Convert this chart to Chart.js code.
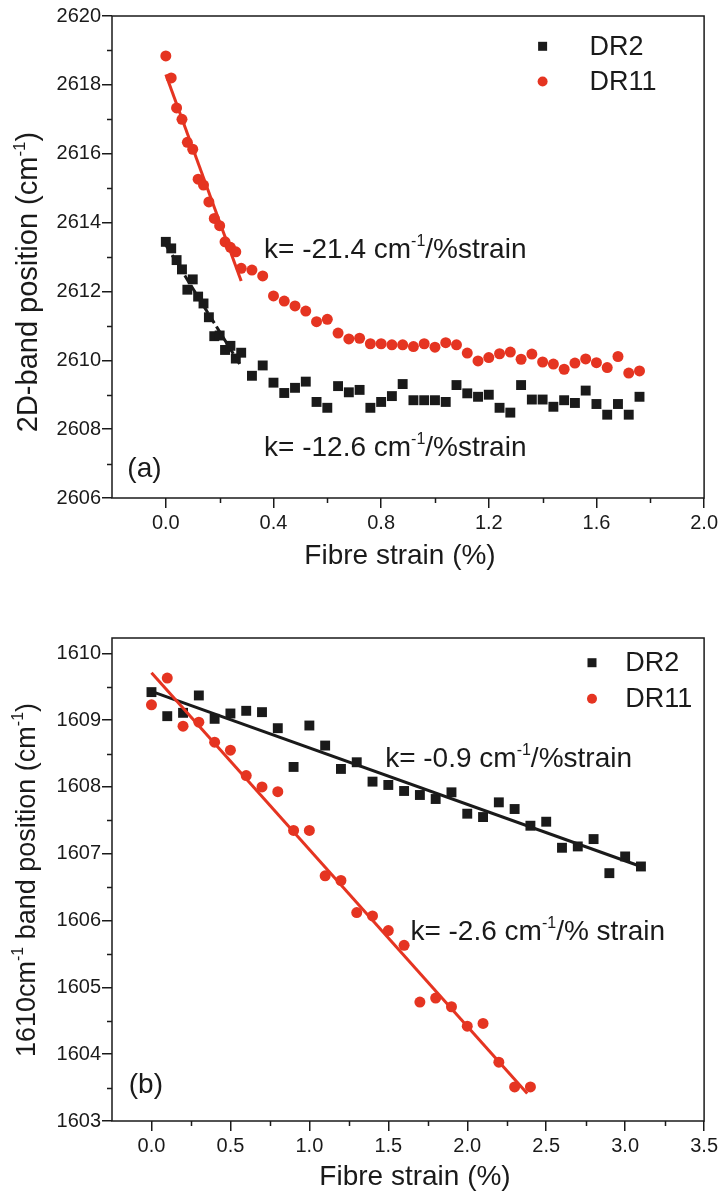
<!DOCTYPE html>
<html>
<head>
<meta charset="utf-8">
<script src="https://cdn.jsdelivr.net/npm/chart.js@4.4.1/dist/chart.umd.min.js"></script>
<style>
  html, body { margin: 0; padding: 0; background: #fff; }
  .panel { position: absolute; left: 0; width: 721px; height: 597px; }
  #panelA { top: 0; }
  #panelB { top: 597px; }
</style>
</head>
<body>
<div class="panel" id="panelA"><canvas id="chartA"></canvas></div>
<div class="panel" id="panelB"><canvas id="chartB"></canvas></div>
<script>
const FONT = "'Liberation Sans', Arial, sans-serif";
const INK = '#1a1a1a';
const RED = '#e53421';

// (a) 2D band vs fibre strain
const strainA = [0, 0.02, 0.04, 0.06, 0.08, 0.10, 0.12, 0.14, 0.16, 0.18, 0.20, 0.22, 0.24, 0.26, 0.28,
  0.32, 0.36, 0.40, 0.44, 0.48, 0.52, 0.56, 0.60, 0.64, 0.68, 0.72, 0.76, 0.80, 0.84, 0.88, 0.92, 0.96,
  1.00, 1.04, 1.08, 1.12, 1.16, 1.20, 1.24, 1.28, 1.32, 1.36, 1.40, 1.44, 1.48, 1.52, 1.56, 1.60, 1.64,
  1.68, 1.72, 1.76];
const dr2A = [2613.44, 2613.25, 2612.91, 2612.64, 2612.05, 2612.35, 2611.85, 2611.65, 2611.25, 2610.70,
  2610.72, 2610.30, 2610.42, 2610.05, 2610.22, 2609.55, 2609.85, 2609.35, 2609.05, 2609.20, 2609.38,
  2608.79, 2608.62, 2609.25, 2609.07, 2609.14, 2608.62, 2608.79, 2608.96, 2609.31, 2608.84, 2608.84,
  2608.84, 2608.79, 2609.28, 2609.04, 2608.94, 2609.00, 2608.62, 2608.48, 2609.28, 2608.86, 2608.86,
  2608.65, 2608.84, 2608.76, 2609.12, 2608.73, 2608.42, 2608.73, 2608.42, 2608.94];
const dr11A = [2618.84, 2618.20, 2617.33, 2617.00, 2616.33, 2616.13, 2615.26, 2615.09, 2614.60, 2614.12,
  2613.91, 2613.44, 2613.28, 2613.15, 2612.67, 2612.62, 2612.45, 2611.87, 2611.72, 2611.58, 2611.43,
  2611.12, 2611.19, 2610.79, 2610.62, 2610.64, 2610.48, 2610.48, 2610.45, 2610.45, 2610.40, 2610.48,
  2610.38, 2610.51, 2610.45, 2610.21, 2609.98, 2610.08, 2610.19, 2610.24, 2610.03, 2610.18, 2609.95,
  2609.89, 2609.74, 2609.92, 2610.04, 2609.93, 2609.79, 2610.11, 2609.63, 2609.69];
const fitA2x = [0, 0.28];
const fitA2y = [2613.35, 2609.82];
const fitA11x = [0, 0.28];
const fitA11y = [2618.3, 2612.3];
const xTicksA = [0, 0.4, 0.8, 1.2, 1.6, 2.0];
const xMinorA = [0.2, 0.6, 1.0, 1.4, 1.8];
const yTicksA = [2606, 2608, 2610, 2612, 2614, 2616, 2618, 2620];
const yMinorA = [2607, 2609, 2611, 2613, 2615, 2617, 2619];

// (b) 1610 band vs fibre strain
const strainB2 = [0, 0.1, 0.2, 0.3, 0.4, 0.5, 0.6, 0.7, 0.8, 0.9, 1.0, 1.1, 1.2, 1.3, 1.4, 1.5, 1.6,
  1.7, 1.8, 1.9, 2.0, 2.1, 2.2, 2.3, 2.4, 2.5, 2.6, 2.7, 2.8, 2.9, 3.0, 3.1];
const dr2B = [1609.42, 1609.06, 1609.11, 1609.37, 1609.02, 1609.10, 1609.14, 1609.12, 1608.88, 1608.30,
  1608.92, 1608.62, 1608.27, 1608.37, 1608.08, 1608.03, 1607.94, 1607.88, 1607.82, 1607.92, 1607.60,
  1607.55, 1607.77, 1607.67, 1607.42, 1607.48, 1607.09, 1607.11, 1607.22, 1606.71, 1606.96, 1606.81];
const strainB11 = [0, 0.1, 0.2, 0.3, 0.4, 0.5, 0.6, 0.7, 0.8, 0.9, 1.0, 1.1, 1.2, 1.3, 1.4, 1.5, 1.6,
  1.7, 1.8, 1.9, 2.0, 2.1, 2.2, 2.3, 2.4];
const dr11B = [1609.23, 1609.63, 1608.91, 1608.97, 1608.67, 1608.55, 1608.17, 1608.00, 1607.93, 1607.35,
  1607.35, 1606.67, 1606.60, 1606.12, 1606.07, 1605.85, 1605.63, 1604.78, 1604.84, 1604.71, 1604.42,
  1604.46, 1603.88, 1603.51, 1603.51];
const fitB2x = [0, 3.1];
const fitB2y = [1609.43, 1606.81];
const fitB11x = [0, 2.38];
const fitB11y = [1609.71, 1603.41];
const xTicksB = [0, 0.5, 1.0, 1.5, 2.0, 2.5, 3.0, 3.5];
const xMinorB = [0.25, 0.75, 1.25, 1.75, 2.25, 2.75, 3.25];
const yTicksB = [1603, 1604, 1605, 1606, 1607, 1608, 1609, 1610];
const yMinorB = [1603.5, 1604.5, 1605.5, 1606.5, 1607.5, 1608.5, 1609.5];

const pts = (xs, ys) => ys.map((y, i) => ({ x: xs[i], y: y }));

function richText(ctx, parts, x, y, size, center) {
  const big = size + 'px ' + FONT;
  const small = Math.round(size * 0.58) + 'px ' + FONT;
  let w = 0;
  parts.forEach(p => { ctx.font = p.sup ? small : big; w += ctx.measureText(p.t).width; });
  let cx = center ? x - w / 2 : x;
  const base = y + size * 0.36;
  ctx.textAlign = 'left';
  ctx.textBaseline = 'alphabetic';
  parts.forEach(p => {
    ctx.font = p.sup ? small : big;
    ctx.fillText(p.t, cx, p.sup ? base - size * 0.42 : base);
    cx += ctx.measureText(p.t).width;
  });
}

// frame, minor ticks, notes, legend and axis titles
function decor(cfg) {
  return {
    id: 'decor',
    afterDraw(chart) {
      const { ctx, chartArea: a } = chart;
      const x = chart.scales.x, y = chart.scales.y;
      ctx.save();
      ctx.strokeStyle = INK;
      ctx.lineWidth = 1.5;
      ctx.strokeRect(a.left, a.top, a.right - a.left, a.bottom - a.top);
      ctx.beginPath();
      cfg.xMinor.forEach(v => {
        const p = Math.round(x.getPixelForValue(v)) + 0.5;
        ctx.moveTo(p, a.bottom); ctx.lineTo(p, a.bottom + 5);
      });
      cfg.yMinor.forEach(v => {
        const p = Math.round(y.getPixelForValue(v)) + 0.5;
        ctx.moveTo(a.left - 5, p); ctx.lineTo(a.left, p);
      });
      ctx.stroke();

      ctx.fillStyle = INK;
      cfg.notes.forEach(n => richText(ctx, n.parts, x.getPixelForValue(n.x), y.getPixelForValue(n.y), 28, false));

      // legend
      const lx = x.getPixelForValue(cfg.legend.x);
      const tx = x.getPixelForValue(cfg.legend.textX);
      cfg.legend.items.forEach(it => {
        const py = y.getPixelForValue(it.y);
        ctx.fillStyle = it.color;
        if (it.shape === 'rect') {
          ctx.fillRect(lx - 4.5, py - 4.5, 9, 9);
        } else {
          ctx.beginPath(); ctx.arc(lx, py, 5, 0, Math.PI * 2); ctx.fill();
        }
        ctx.fillStyle = INK;
        ctx.font = '27px ' + FONT;
        ctx.textAlign = 'left';
        ctx.textBaseline = 'middle';
        ctx.fillText(it.label, tx, py + 1);
      });

      // axis titles
      ctx.fillStyle = INK;
      ctx.font = '28px ' + FONT;
      ctx.textAlign = 'center';
      ctx.textBaseline = 'middle';
      ctx.fillText('Fibre strain (%)', cfg.xTitle[0], cfg.xTitle[1]);
      ctx.translate(cfg.yTitle[0], cfg.yTitle[1]);
      ctx.rotate(-Math.PI / 2);
      richText(ctx, cfg.yTitleParts, 0, 0, cfg.yTitleSize, true);
      ctx.restore();
    }
  };
}

function scatterSet(data, style, color, r) {
  return { data: data, pointStyle: style, pointRadius: r, pointBackgroundColor: color,
    pointBorderWidth: 0, borderWidth: 0, showLine: false };
}
function fitSet(data, color, dash) {
  return { data: data, showLine: true, pointRadius: 0, borderColor: color, borderWidth: 3,
    borderDash: dash || [], fill: false };
}

function axes(xr, yr, xTicks, yTicks, xHeight, digits) {
  const common = {
    type: 'linear',
    border: { display: false },
    grid: { drawOnChartArea: false, drawTicks: true, tickLength: 10, color: INK, lineWidth: 1.5, tickWidth: 1.5 },
  };
  return {
    x: Object.assign({}, common, {
      min: xr[0], max: xr[1],
      afterBuildTicks: s => { s.ticks = xTicks.map(v => ({ value: v })); },
      afterFit: s => { s.height = xHeight; },
      ticks: { autoSkip: false, maxRotation: 0, padding: 3, color: INK, font: { family: FONT, size: 20 },
        callback: v => Number(v).toFixed(digits) }
    }),
    y: Object.assign({}, common, {
      min: yr[0], max: yr[1],
      afterBuildTicks: s => { s.ticks = yTicks.map(v => ({ value: v })); },
      afterFit: s => { s.width = 112; },
      ticks: { autoSkip: false, padding: 1, color: INK, font: { family: FONT, size: 20 },
        callback: v => String(v) }
    })
  };
}

const baseOpts = {
  responsive: true,
  maintainAspectRatio: false,
  animation: false,
  events: [],
  plugins: { legend: { display: false }, tooltip: { enabled: false } }
};

new Chart(document.getElementById('chartA'), {
  type: 'scatter',
  data: {
    datasets: [
      fitSet(pts(fitA11x, fitA11y), RED),
      fitSet(pts(fitA2x, fitA2y), INK, [8, 4]),
      scatterSet(pts(strainA, dr11A), 'circle', RED, 5.5),
      scatterSet(pts(strainA, dr2A), 'rect', INK, 7)
    ]
  },
  options: Object.assign({}, baseOpts, {
    layout: { padding: { top: 16, right: 16, left: 0, bottom: 0 } },
    scales: axes([-0.2, 2.0], [2606, 2620], xTicksA, yTicksA, 99, 1)
  }),
  plugins: [decor({
    xMinor: xMinorA, yMinor: yMinorA,
    notes: [
      { x: 0.365, y: 2613.26, parts: [{ t: 'k= -21.4 cm' }, { t: '-1', sup: true }, { t: '/%strain' }] },
      { x: 0.365, y: 2607.52, parts: [{ t: 'k= -12.6 cm' }, { t: '-1', sup: true }, { t: '/%strain' }] },
      { x: -0.143, y: 2606.91, parts: [{ t: '(a)' }] }
    ],
    legend: { x: 1.40, textX: 1.574, items: [
      { y: 2619.12, label: 'DR2', shape: 'rect', color: INK },
      { y: 2618.10, label: 'DR11', shape: 'circle', color: RED }
    ] },
    xTitle: [400, 556],
    yTitle: [27, 282],
    yTitleSize: 29,
    yTitleParts: [{ t: '2D-band position (cm' }, { t: '-1', sup: true }, { t: ')' }]
  })]
});

new Chart(document.getElementById('chartB'), {
  type: 'scatter',
  data: {
    datasets: [
      fitSet(pts(fitB11x, fitB11y), RED),
      fitSet(pts(fitB2x, fitB2y), INK),
      scatterSet(pts(strainB11, dr11B), 'circle', RED, 5.5),
      scatterSet(pts(strainB2, dr2B), 'rect', INK, 7)
    ]
  },
  options: Object.assign({}, baseOpts, {
    layout: { padding: { top: 41, right: 16, left: 0, bottom: 0 } },
    scales: axes([-0.25, 3.5], [1603, 1610.23], xTicksB, yTicksB, 73, 1)
  }),
  plugins: [decor({
    xMinor: xMinorB, yMinor: yMinorB,
    notes: [
      { x: 1.48, y: 1608.45, parts: [{ t: 'k= -0.9 cm' }, { t: '-1', sup: true }, { t: '/%strain' }] },
      { x: 1.64, y: 1605.86, parts: [{ t: 'k= -2.6 cm' }, { t: '-1', sup: true }, { t: '/% strain' }] },
      { x: -0.144, y: 1603.57, parts: [{ t: '(b)' }] }
    ],
    legend: { x: 2.79, textX: 3.0, items: [
      { y: 1609.86, label: 'DR2', shape: 'rect', color: INK },
      { y: 1609.32, label: 'DR11', shape: 'circle', color: RED }
    ] },
    xTitle: [415, 580],
    yTitle: [25, 283],
    yTitleSize: 27,
    yTitleParts: [{ t: '1610cm' }, { t: '-1', sup: true }, { t: ' band position (cm' }, { t: '-1', sup: true }, { t: ')' }]
  })]
});
</script>
</body>
</html>
